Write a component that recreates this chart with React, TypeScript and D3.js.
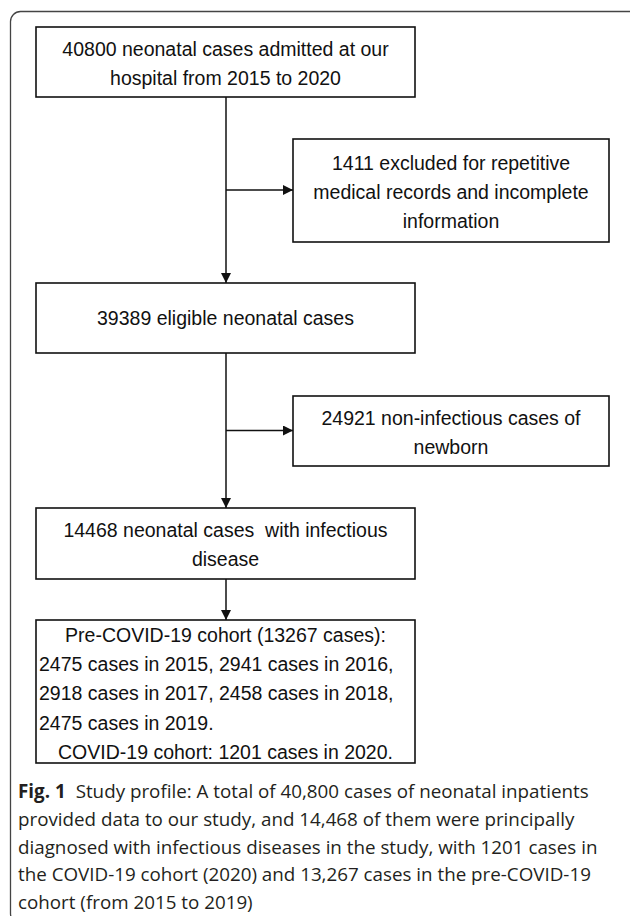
import { useEffect, useRef } from 'react';
import * as d3 from 'd3';

// Box texts (one entry per line)
const topBox = ['40800 neonatal cases admitted at our', 'hospital from 2015 to 2020'];
const excludedBox = ['1411 excluded for repetitive', 'medical records and incomplete', 'information'];
const eligibleBox = ['39389 eligible neonatal cases'];
const nonInfectiousBox = ['24921 non-infectious cases of', 'newborn'];
const infectiousBox = ['14468 neonatal cases  with infectious', 'disease'];
const cohortBox = [
  'Pre-COVID-19 cohort (13267 cases):',
  '2475 cases in 2015, 2941 cases in 2016,',
  '2918 cases in 2017, 2458 cases in 2018,',
  '2475 cases in 2019.',
  'COVID-19 cohort: 1201 cases in 2020.',
];
const cohortAlign = ['middle', 'start', 'start', 'start', 'middle'];

const captionBold = 'Fig. 1';
const captionLines = [
  'Study profile: A total of 40,800 cases of neonatal inpatients',
  'provided data to our study, and 14,468 of them were principally',
  'diagnosed with infectious diseases in the study, with 1201 cases in',
  'the COVID-19 cohort (2020) and 13,267 cases in the pre-COVID-19',
  'cohort (from 2015 to 2019)',
];

const W = 630;
const H = 916;

export default function App() {
  const svgRef = useRef<SVGSVGElement>(null);

  useEffect(() => {
    if (!svgRef.current) return;
    const svg = d3.select(svgRef.current);
    svg.selectAll('*').remove();

    // layout: main column and side column (pixel positions)
    const col = {
      main: { x0: 36, x1: 415 },
      side: { x0: 293, x1: 609 },
    };
    const boxes = [
      { lines: topBox, col: col.main, y0: 27, y1: 97, first: 49 },
      { lines: excludedBox, col: col.side, y0: 139, y1: 242, first: 163 },
      { lines: eligibleBox, col: col.main, y0: 283, y1: 353, first: 318 },
      { lines: nonInfectiousBox, col: col.side, y0: 396, y1: 466, first: 418 },
      { lines: infectiousBox, col: col.main, y0: 508, y1: 579, first: 530 },
      { lines: cohortBox, col: col.main, y0: 620, y1: 763, first: 635, align: cohortAlign },
    ];
    const lineGap = 29.2;
    const spineX = 226;

    // outer frame
    svg.append('rect')
      .attr('x', 10.5).attr('y', 11.5)
      .attr('width', 630).attr('height', 912)
      .attr('rx', 10)
      .attr('fill', 'none')
      .attr('stroke', '#444')
      .attr('stroke-width', 1.3);

    const defs = svg.append('defs');
    defs.append('marker')
      .attr('id', 'arr')
      .attr('viewBox', '0 0 10 10')
      .attr('refX', 10).attr('refY', 5)
      .attr('markerWidth', 10).attr('markerHeight', 10)
      .attr('markerUnits', 'userSpaceOnUse')
      .attr('orient', 'auto')
      .append('path')
      .attr('d', 'M0,0L10,5L0,10Z')
      .attr('fill', '#111');

    const g = svg.append('g');

    // connectors on the spine
    const mains = boxes.filter(b => b.col === col.main);
    for (let i = 0; i < mains.length - 1; i++) {
      g.append('line')
        .attr('x1', spineX).attr('x2', spineX)
        .attr('y1', mains[i].y1).attr('y2', mains[i + 1].y0)
        .attr('stroke', '#111').attr('stroke-width', 1.5)
        .attr('marker-end', 'url(#arr)');
    }
    // side arrows to the exclusion boxes
    boxes.filter(b => b.col === col.side).forEach(b => {
      const y = (b.y0 + b.y1) / 2 - 0.5;
      g.append('line')
        .attr('x1', spineX).attr('x2', b.col.x0)
        .attr('y1', y).attr('y2', y)
        .attr('stroke', '#111').attr('stroke-width', 1.5)
        .attr('marker-end', 'url(#arr)');
    });

    // boxes + text
    boxes.forEach(b => {
      g.append('rect')
        .attr('x', b.col.x0).attr('y', b.y0)
        .attr('width', b.col.x1 - b.col.x0).attr('height', b.y1 - b.y0)
        .attr('fill', '#fff')
        .attr('stroke', '#111').attr('stroke-width', 1.6);
      const cx = (b.col.x0 + b.col.x1) / 2;
      b.lines.forEach((t, i) => {
        const anchor = b.align ? b.align[i] : 'middle';
        g.append('text')
          .attr('x', anchor === 'start' ? b.col.x0 + 3 : cx)
          .attr('y', b.first + i * lineGap + 7)
          .attr('text-anchor', anchor)
          .style('font-family', '"Liberation Sans", Arial, sans-serif')
          .style('font-size', '19.5px')
          .style('white-space', 'pre')
          .attr('fill', '#111')
          .text(t);
      });
    });

    // caption
    const cap = svg.append('g')
      .style('font-family', '"Open Sans", sans-serif')
      .style('font-size', '18.8px')
      .attr('fill', '#231f20');
    captionLines.forEach((t, i) => {
      const tx = cap.append('text')
        .attr('x', 18)
        .attr('y', 798 + i * 27.8);
      if (i === 0) {
        tx.append('tspan').style('font-weight', 700).text(captionBold);
        tx.append('tspan').attr('dx', 10).text(t);
      } else {
        tx.text(t);
      }
    });
  }, []);

  return (
    <svg
      ref={svgRef}
      width={W}
      height={H}
      style={{ position: 'absolute', left: 0, top: 0, background: '#fff' }}
    />
  );
}
